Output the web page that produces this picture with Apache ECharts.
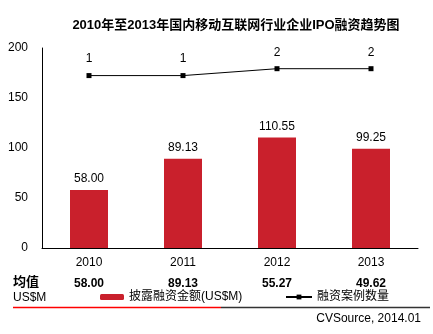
<!DOCTYPE html>
<html><head><meta charset="utf-8">
<script src="https://cdn.jsdelivr.net/npm/echarts@6/dist/echarts.min.js"></script>
<style>html,body{margin:0;padding:0;background:#fff}#c{width:433px;height:334px}</style>
</head><body><div id="c"></div>
<script>
const categories = ['2010', '2011', '2012', '2013'];
const amounts = [58.00, 89.13, 110.55, 99.25];
const dealCounts = [1, 1, 2, 2];
const averages = ['58.00', '89.13', '55.27', '49.62'];
const yTicks = [0, 50, 100, 150, 200];
const titleText = '2010年至2013年国内移动互联网行业企业IPO融资趋势图';
const barName = '披露融资金额(US$M)';
const lineName = '融资案例数量';

const FF = '"Liberation Sans", Arial, "Noto Sans CJK SC", sans-serif';
const chart = echarts.init(document.getElementById('c'), null, {renderer: 'canvas'});
chart.setOption({
  animation: false,
  textStyle: {fontFamily: FF},
  title: {
    text: titleText, left: 231, textAlign: 'center', top: 14,
    textStyle: {fontSize: 13, fontWeight: 'bold', color: '#000', fontFamily: FF}
  },
  grid: {left: 42, right: 15, top: 48, bottom: 86},
  legend: [
    {data: [barName], left: 100, top: 291, itemWidth: 24, itemHeight: 6, itemGap: 0,
     padding: 0, textStyle: {fontSize: 12, color: '#000', fontFamily: FF}},
    {data: [lineName], left: 285, top: 291, itemWidth: 26, itemHeight: 6, itemGap: 0,
     padding: 0, textStyle: {fontSize: 12, color: '#000', fontFamily: FF}}
  ],
  xAxis: [
    {type: 'category', data: categories,
     axisLine: {lineStyle: {color: '#000', width: 1}}, axisTick: {show: false},
     axisLabel: {color: '#000', fontSize: 12, margin: 9, fontFamily: FF}},
    {type: 'category', data: averages, position: 'bottom', offset: 21,
     axisLine: {show: false}, axisTick: {show: false},
     axisLabel: {color: '#000', fontSize: 12, fontWeight: 'bold', margin: 9, fontFamily: FF}}
  ],
  yAxis: [
    {type: 'value', min: yTicks[0], max: yTicks[yTicks.length - 1], interval: 50,
     axisLine: {show: true, lineStyle: {color: '#000', width: 1}}, axisTick: {show: false},
     splitLine: {show: false},
     axisLabel: {color: '#000', fontSize: 12, margin: 14, fontFamily: FF}},
    {type: 'value', min: -24, max: 5, show: false, splitLine: {show: false}}
  ],
  series: [
    {name: barName, type: 'bar', data: amounts, barWidth: 38,
     itemStyle: {color: '#C9202C'},
     label: {show: true, position: 'top', distance: 5, color: '#000', fontSize: 12,
       fontFamily: FF, formatter: p => p.value.toFixed(2)}},
    {name: lineName, type: 'line', yAxisIndex: 1, data: dealCounts,
     symbol: 'rect', symbolSize: 5, lineStyle: {color: '#000', width: 1},
     itemStyle: {color: '#000'},
     label: {show: true, position: 'top', distance: 8, color: '#000', fontSize: 12, fontFamily: FF}}
  ],
  graphic: [
    {type: 'text', left: 13, top: 276, style: {text: '均值', fontSize: 13, fontWeight: 'bold', fill: '#000', fontFamily: FF}},
    {type: 'text', left: 13, top: 292, style: {text: 'US$M', fontSize: 12, fill: '#000', fontFamily: FF}},
    {type: 'line', shape: {x1: 13, y1: 307.5, x2: 221, y2: 307.5}, style: {stroke: '#FF0000', lineWidth: 1.5}},
    {type: 'line', shape: {x1: 221, y1: 307.5, x2: 430, y2: 307.5}, style: {stroke: '#333333', lineWidth: 1.5}},
    {type: 'text', right: 12, top: 313, style: {text: 'CVSource, 2014.01', fontSize: 12, fill: '#000', fontFamily: FF}}
  ]
});
</script></body></html>
